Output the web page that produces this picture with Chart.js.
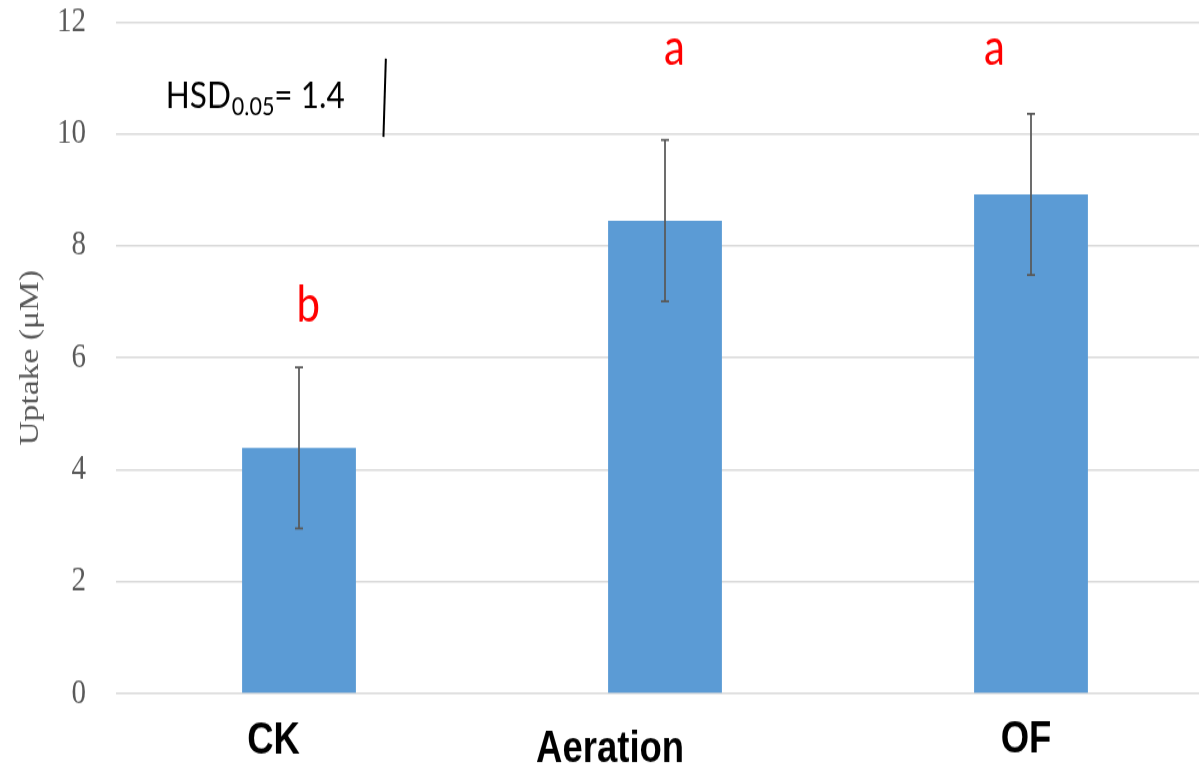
<!DOCTYPE html>
<html>
<head>
<meta charset="utf-8">
<script src="https://cdn.jsdelivr.net/npm/chart.js@4.4.1/dist/chart.umd.min.js"></script>
<style>
  html, body { margin: 0; padding: 0; background: #ffffff; overflow: hidden; width: 1199px; height: 764px; }
  /* the drawing is laid out at 637px height and stretched to 764px */
  #wrap { position: absolute; left: 0; top: 0; width: 1214px; height: 637px; transform: scaleY(1.2); transform-origin: 0 0; }
  canvas { display: block; }
</style>
</head>
<body>
<div id="wrap"><canvas id="c" width="1214" height="637"></canvas></div>
<script>
// Treatments and measured uptake (µM) with error bar half-lengths
const categories = ['CK', 'Aeration', 'OF'];
const uptake = [4.39, 8.45, 8.92];
const uptakeErr = [1.44, 1.44, 1.44];

// Tukey grouping letters above each treatment
const groupLetters = ['b', 'a', 'a'];

// y axis range and step
const yMin = 0;
const yMax = 12;
const yStep = 2;

// Least significant difference bar
const hsdValue = 1.4;

// placement of the text boxes: x in category units, y in data units,
// category captions as a shift along x and a drop below the axis in px
const captionShift = [-0.0697, -0.150, -0.0137];
const captionDrop = [50, 56.7, 49.2];
const letterAnchors = [
  { x: 0.025, y: 6.65 },
  { x: 1.026, y: 11.23 },
  { x: 1.90,  y: 11.23 }
];
const hsdTextAnchor = { x: -0.364, y: 10.46 };
const hsdBarAnchor = { x: 0.234, yMid: 10.645 };

const BAR_BLUE = '#5b9bd5';
const GRID = '#d9d9d9';
const AXIS_TEXT = '#595959';

const annotations = {
  id: 'annotations',
  afterDatasetsDraw(chart) {
    const ctx = chart.ctx;
    const xs = chart.scales.x;
    const ys = chart.scales.y;
    ctx.save();

    // error bars
    ctx.strokeStyle = '#595959';
    ctx.lineWidth = 1.75;
    uptake.forEach((v, i) => {
      const x = xs.getPixelForValue(i);
      const yt = ys.getPixelForValue(v + uptakeErr[i]);
      const yb = ys.getPixelForValue(v - uptakeErr[i]);
      ctx.beginPath();
      ctx.moveTo(x, yt); ctx.lineTo(x, yb);
      ctx.moveTo(x - 4, yt); ctx.lineTo(x + 4, yt);
      ctx.moveTo(x - 4, yb); ctx.lineTo(x + 4, yb);
      ctx.stroke();
    });

    // category captions under the axis
    ctx.fillStyle = '#000000';
    ctx.font = "bold 36.5px 'Liberation Sans', Arial, sans-serif";
    ctx.textAlign = 'center';
    ctx.textBaseline = 'alphabetic';
    categories.forEach((c, i) => {
      ctx.fillText(c, xs.getPixelForValue(i + captionShift[i]), xs.top + captionDrop[i]);
    });

    // grouping letters
    ctx.fillStyle = '#ff0000';
    ctx.font = '42px Lato';
    groupLetters.forEach((t, i) => {
      const a = letterAnchors[i];
      ctx.fillText(t, xs.getPixelForValue(a.x), ys.getPixelForValue(a.y));
    });

    // HSD label with subscript
    ctx.fillStyle = '#000000';
    ctx.textAlign = 'left';
    let tx = xs.getPixelForValue(hsdTextAnchor.x);
    const ty = ys.getPixelForValue(hsdTextAnchor.y);
    ctx.font = '31.5px Lato';
    ctx.fillText('HSD', tx, ty);
    tx += ctx.measureText('HSD').width + 1;
    ctx.font = '21.5px Lato';
    ctx.fillText('0.05', tx, ty + 5.5);
    tx += ctx.measureText('0.05').width;
    ctx.font = '31.5px Lato';
    ctx.fillText('= ' + hsdValue.toFixed(1), tx, ty);

    // HSD bar, length equal to the HSD value
    const bx = xs.getPixelForValue(hsdBarAnchor.x);
    const top = ys.getPixelForValue(hsdBarAnchor.yMid + hsdValue / 2);
    const bot = ys.getPixelForValue(hsdBarAnchor.yMid - hsdValue / 2);
    ctx.strokeStyle = '#000000';
    ctx.lineWidth = 2;
    ctx.beginPath();
    ctx.moveTo(bx + 1.2, top);
    ctx.lineTo(bx - 1.2, bot);
    ctx.stroke();

    ctx.restore();
  }
};

new Chart(document.getElementById('c'), {
  type: 'bar',
  data: {
    labels: categories,
    datasets: [{
      data: uptake,
      backgroundColor: BAR_BLUE,
      borderWidth: 0,
      categoryPercentage: 1,
      barPercentage: 0.311
    }]
  },
  options: {
    responsive: false,
    animation: false,
    devicePixelRatio: 1,
    layout: { padding: { top: 18.3, left: 0, right: 0, bottom: 0 } },
    plugins: {
      legend: { display: false },
      tooltip: { enabled: false }
    },
    scales: {
      x: {
        grid: { display: false, drawTicks: false },
        border: { display: false },
        ticks: { display: false },
        afterFit(scale) {
          scale.height = 59;
          scale.paddingLeft = 0;
          scale.paddingRight = 0;
        }
      },
      y: {
        min: yMin,
        max: yMax,
        grid: { color: GRID, lineWidth: 1.6, drawTicks: false },
        border: { display: false },
        ticks: {
          stepSize: yStep,
          color: AXIS_TEXT,
          padding: 30,
          font: { family: "'Liberation Serif', 'Times New Roman', serif", size: 29 }
        },
        title: {
          display: true,
          text: 'Uptake (μM)',
          color: AXIS_TEXT,
          padding: { top: 14, bottom: 0 },
          font: { family: "'Liberation Serif', 'Times New Roman', serif", size: 28 }
        },
        afterFit(scale) {
          scale.width = 116;
          scale.paddingTop = 0;
          scale.paddingBottom = 0;
        }
      }
    }
  },
  plugins: [annotations]
});
</script>
</body>
</html>
